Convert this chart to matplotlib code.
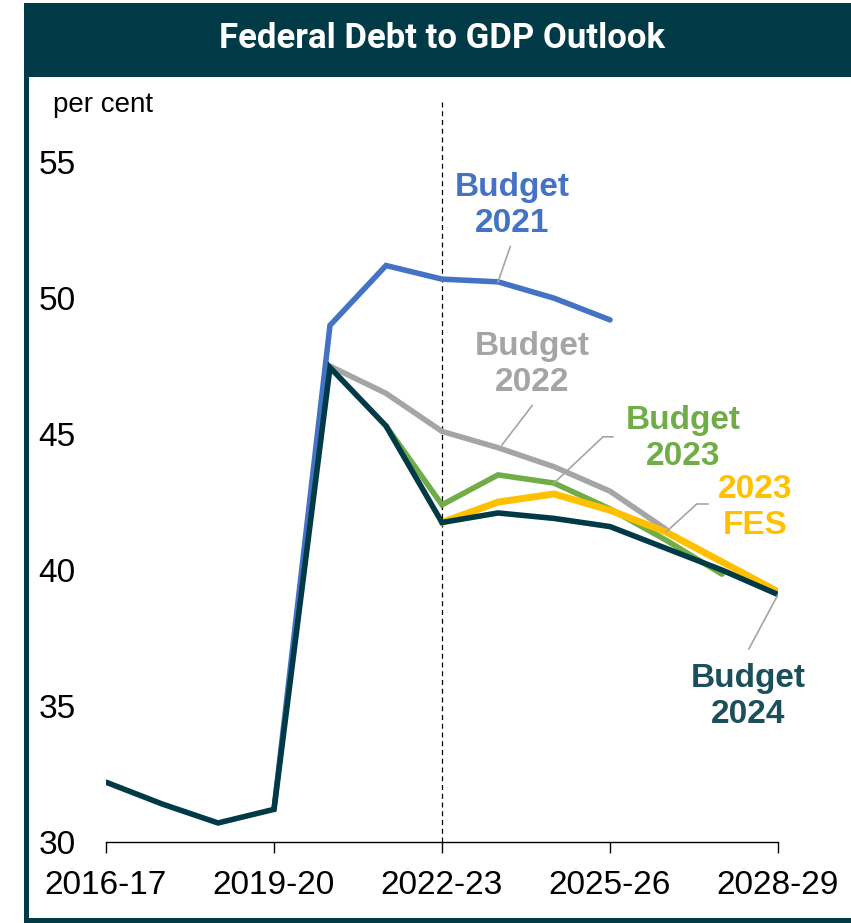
import numpy as np
import matplotlib
matplotlib.use("Agg")
import matplotlib.pyplot as plt
from matplotlib.patches import Rectangle

plt.rcParams['font.family'] = ['Liberation Sans', 'DejaVu Sans']

years = ["2016-17", "2017-18", "2018-19", "2019-20", "2020-21", "2021-22", "2022-23",
         "2023-24", "2024-25", "2025-26", "2026-27", "2027-28", "2028-29"]
tick_years = ["2016-17", "2019-20", "2022-23", "2025-26", "2028-29"]

# debt to GDP, per cent, by budget vintage (first index into years)
budget_2021_start = 3
budget_2021 = [31.2, 49.0, 51.2, 50.7, 50.6, 50.0, 49.2]
budget_2022_start = 4
budget_2022 = [47.5, 46.5, 45.1, 44.5, 43.8, 42.9, 41.5]
budget_2023_start = 5
budget_2023 = [45.3, 42.4, 43.5, 43.2, 42.25, 41.1, 39.85]
fes_2023_start = 6
fes_2023 = [41.75, 42.5, 42.8, 42.2, 41.4, 40.3, 39.2]
budget_2024_start = 0
budget_2024 = [32.2, 31.4, 30.7, 31.2, 47.45, 45.3, 41.75, 42.1, 41.9, 41.6, 40.8, 40.0, 39.1]

c_blue = "#4472C4"
c_grey = "#A5A5A5"
c_green = "#70AD47"
c_gold = "#FFC000"
c_dark = "#003A46"
c_dark_txt = "#1B4F59"
c_bar = "#003A47"

fig = plt.figure(figsize=(8.51, 9.23), dpi=100)
W, H = 851, 923

# title banner and frame
fig.patches.append(Rectangle((24 / W, 1 - 77 / H), 1 - 24 / W, 74 / H, transform=fig.transFigure,
                             facecolor=c_bar, edgecolor="none", zorder=0))
fig.patches.append(Rectangle((24 / W, 0), 5 / W, 1 - 77 / H, transform=fig.transFigure,
                             facecolor=c_bar, edgecolor="none", zorder=0))
fig.patches.append(Rectangle((24 / W, 0), 1 - 24 / W, 5 / H, transform=fig.transFigure,
                             facecolor=c_bar, edgecolor="none", zorder=0))
fig.text(442 / W, 1 - 38 / H, "Federal Debt to GDP Outlook", color="white", fontsize=25,
         fontweight="bold", family=["Roboto", "DejaVu Sans"], ha="center", va="center")
fig.text(53 / W, 1 - 105 / H, "per cent", fontsize=20, ha="left", va="center")

ax = fig.add_axes([106 / W, 81 / H, 672 / W, 741 / H])
x = np.arange(len(years))

def draw(start, vals, color, lw):
    xs = x[start:start + len(vals)]
    ax.plot(xs, vals, color=color, lw=lw, solid_capstyle="round", solid_joinstyle="miter", zorder=3)

draw(budget_2021_start, budget_2021, c_blue, 4.0)
draw(budget_2022_start, budget_2022, c_grey, 4.0)
draw(budget_2023_start, budget_2023, c_green, 4.0)
draw(fes_2023_start, fes_2023, c_gold, 5.0)
draw(budget_2024_start, budget_2024, c_dark, 4.0)

ax.axvline(years.index("2022-23"), color="black", lw=0.9, ls=(0, (4, 3)), zorder=2)

ax.set_xlim(0, len(years) - 1)
ax.set_ylim(30, 57.25)
ax.set_xticks([years.index(t) for t in tick_years])
ax.set_xticklabels(tick_years, fontsize=24)
ax.set_yticks([30, 35, 40, 45, 50, 55])
ax.set_yticklabels(["30", "35", "40", "45", "50", "55"], fontsize=24)
for s in ["top", "right", "left"]:
    ax.spines[s].set_visible(False)
ax.spines["bottom"].set_linewidth(1.0)
ax.tick_params(axis="x", direction="out", length=8, width=1.0, pad=12)
ax.tick_params(axis="y", length=0, pad=22)
ax.patch.set_alpha(0)

# series labels with leader lines
lab = dict(fontsize=24, fontweight="bold", ha="center", va="center", linespacing=1.22, zorder=5)
lead = dict(color=c_grey, lw=1.2, zorder=4)

ax.text(7.25, 53.4, "Budget\n2021", color=c_blue, **lab)
ax.plot([7.22, 7], [51.9, budget_2021[7 - budget_2021_start]], **lead)

ax.text(7.61, 47.55, "Budget\n2022", color=c_grey, **lab)
ax.plot([7.61, 7.07], [46.05, budget_2022[7 - budget_2022_start] + 0.1], **lead)

ax.text(10.3, 44.85, "Budget\n2023", color=c_green, **lab)
ax.plot([9.05, 8.875, 8.0], [44.9, 44.9, budget_2023[8 - budget_2023_start]], **lead)

ax.text(11.6, 42.3, "2023\nFES", color=c_gold, **lab)
ax.plot([10.75, 10.55, 10.0], [42.43, 42.43, fes_2023[10 - fes_2023_start]], **lead)

ax.text(11.46, 35.35, "Budget\n2024", color=c_dark_txt, **lab)
ax.plot([11.48, 12.0], [37.1, budget_2024[12 - budget_2024_start]], **lead)

fig.savefig("out.png", dpi=100)
